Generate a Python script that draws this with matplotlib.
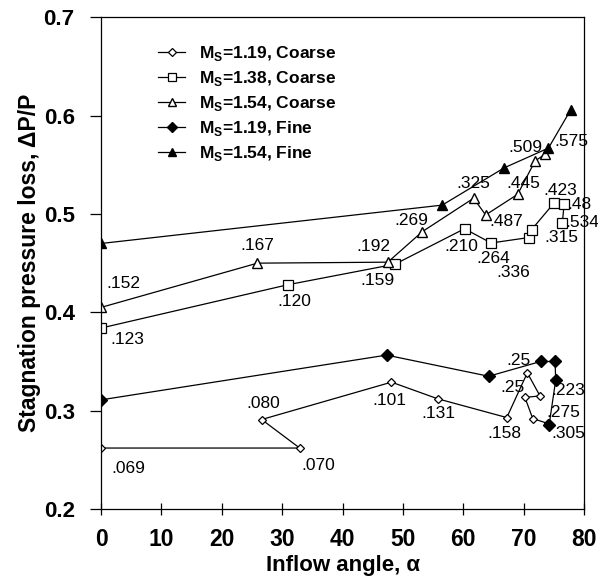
import matplotlib
matplotlib.use("Agg")
from matplotlib import pyplot as plt

plt.rcParams['font.family'] = ['Liberation Sans', 'DejaVu Sans']
plt.rcParams['font.weight'] = 'bold'
plt.rcParams['mathtext.fontset'] = 'custom'
plt.rcParams['mathtext.rm'] = 'Liberation Sans:bold'
plt.rcParams['mathtext.bf'] = 'Liberation Sans:bold'

# Ms=1.19, coarse grid
c119_x = [0, 32.9, 26.6, 48.1, 55.8, 67.2, 70.6, 72.7, 70.2, 71.5, 74.0]
c119_y = [0.262, 0.262, 0.291, 0.329, 0.312, 0.293, 0.3385, 0.315, 0.3135, 0.292, 0.287]
c119_lab = ['.069', '.070', '.080', '.101', '.131', '.158', '.25', '', '.25', '', '.275']

# Ms=1.38, coarse grid
c138_x = [0, 30.9, 48.7, 60.2, 64.6, 70.8, 71.3, 75.0, 76.7, 76.4]
c138_y = [0.384, 0.428, 0.449, 0.485, 0.4705, 0.476, 0.484, 0.511, 0.510, 0.491]
c138_lab = ['.123', '.120', '.159', '.210', '.264', '.336', '.315', '.423', '.48', '.534']

# Ms=1.54, coarse grid
c154_x = [0, 25.9, 47.5, 53.2, 61.7, 63.7, 69.0, 71.9, 73.6]
c154_y = [0.405, 0.450, 0.451, 0.482, 0.516, 0.499, 0.520, 0.554, 0.561]
c154_lab = ['.152', '.167', '.192', '.269', '.325', '.487', '.445', '.509', '.575']

# Ms=1.19, fine grid
f119_x = [0, 47.3, 64.2, 72.8, 75.2, 75.3, 74.2]
f119_y = [0.311, 0.3565, 0.335, 0.350, 0.350, 0.331, 0.285]
f119_lab = ['', '', '', '', '', '.223', '.305']

# Ms=1.54, fine grid
f154_x = [0, 56.5, 66.8, 74.1, 77.8]
f154_y = [0.470, 0.509, 0.547, 0.567, 0.606]

# label offsets in pixels (dx, dy)
c119_off = [(27, -20), (19, -17), (2, 16), (-2, -18), (0, -15), (-2, -16),
            (-9, 12), (0, 0), (-12, 10), (0, 0), (15, 11)]
c138_off = [(26, -11), (7, -17), (-18, -16), (-3, -18), (2, -16), (-15, -35),
            (30, -8), (6, 13), (15, 0), (20, 0)]
c154_off = [(22, 24), (0, 18), (-14, 16), (-11, 11), (0, 15), (21, -7),
            (6, 11), (-10, 13), (26, 12)]
f119_off = [(0, 0)] * 5 + [(13, -10), (19, -8)]

fig = plt.figure(figsize=(5.98, 5.82), dpi=100)
ax = fig.add_axes([0.169, 0.1254, 0.8077, 0.8449])

lw = 0.9
ax.plot(c119_x, c119_y, color='k', lw=lw, marker='D', ms=4.5, mfc='white', mec='k', mew=0.9,
        label=r'M$_\mathregular{S}$=1.19, Coarse')
ax.plot(c138_x, c138_y, color='k', lw=lw, marker='s', ms=7, mfc='white', mec='k', mew=0.9,
        label=r'M$_\mathregular{S}$=1.38, Coarse')
ax.plot(c154_x, c154_y, color='k', lw=lw, marker='^', ms=7.5, mfc='white', mec='k', mew=1.0,
        label=r'M$_\mathregular{S}$=1.54, Coarse')
ax.plot(f119_x, f119_y, color='k', lw=lw, marker='D', ms=6, mfc='k', mec='k',
        label=r'M$_\mathregular{S}$=1.19, Fine')
ax.plot(f154_x, f154_y, color='k', lw=lw, marker='^', ms=7.5, mfc='k', mec='k',
        label=r'M$_\mathregular{S}$=1.54, Fine')

for xs, ys, labs, offs in [(c119_x, c119_y, c119_lab, c119_off),
                           (c138_x, c138_y, c138_lab, c138_off),
                           (c154_x, c154_y, c154_lab, c154_off),
                           (f119_x, f119_y, f119_lab, f119_off)]:
    for x, y, t, o in zip(xs, ys, labs, offs):
        if t:
            ax.annotate(t, (x, y), xytext=o, textcoords='offset pixels',
                        ha='center', va='center', fontsize=12.5, fontweight='normal',
                        annotation_clip=False)

ax.set_xlim(0, 80)
ax.set_ylim(0.2, 0.7)
ax.set_xticks(range(0, 81, 10))
ax.set_yticks([0.2, 0.3, 0.4, 0.5, 0.6, 0.7])
ax.set_yticklabels(['0.2', '0.3', '0.4', '0.5', '0.6', '0.7'])
ax.tick_params(axis='x', direction='inout', length=9, width=0.9, labelsize=16.5, pad=9)
ax.tick_params(axis='y', direction='out', length=8, width=0.9, labelsize=16, pad=11)
for s in ax.spines.values():
    s.set_linewidth(0.9)

ax.set_xlabel('Inflow angle, α', fontsize=16, fontweight='bold', labelpad=3)
ax.set_ylabel('Stagnation pressure loss, ΔP/P', fontsize=16.5, fontweight='bold')
ax.yaxis.set_label_coords(-0.124, 0.5)

ax.legend(loc='upper left', bbox_to_anchor=(0.118, 0.946), frameon=False, fontsize=12.5,
          borderaxespad=0, borderpad=0, handlelength=1.55, handletextpad=0.8,
          labelspacing=0.35, markerscale=0.8)

fig.savefig('out.png', dpi=100)
